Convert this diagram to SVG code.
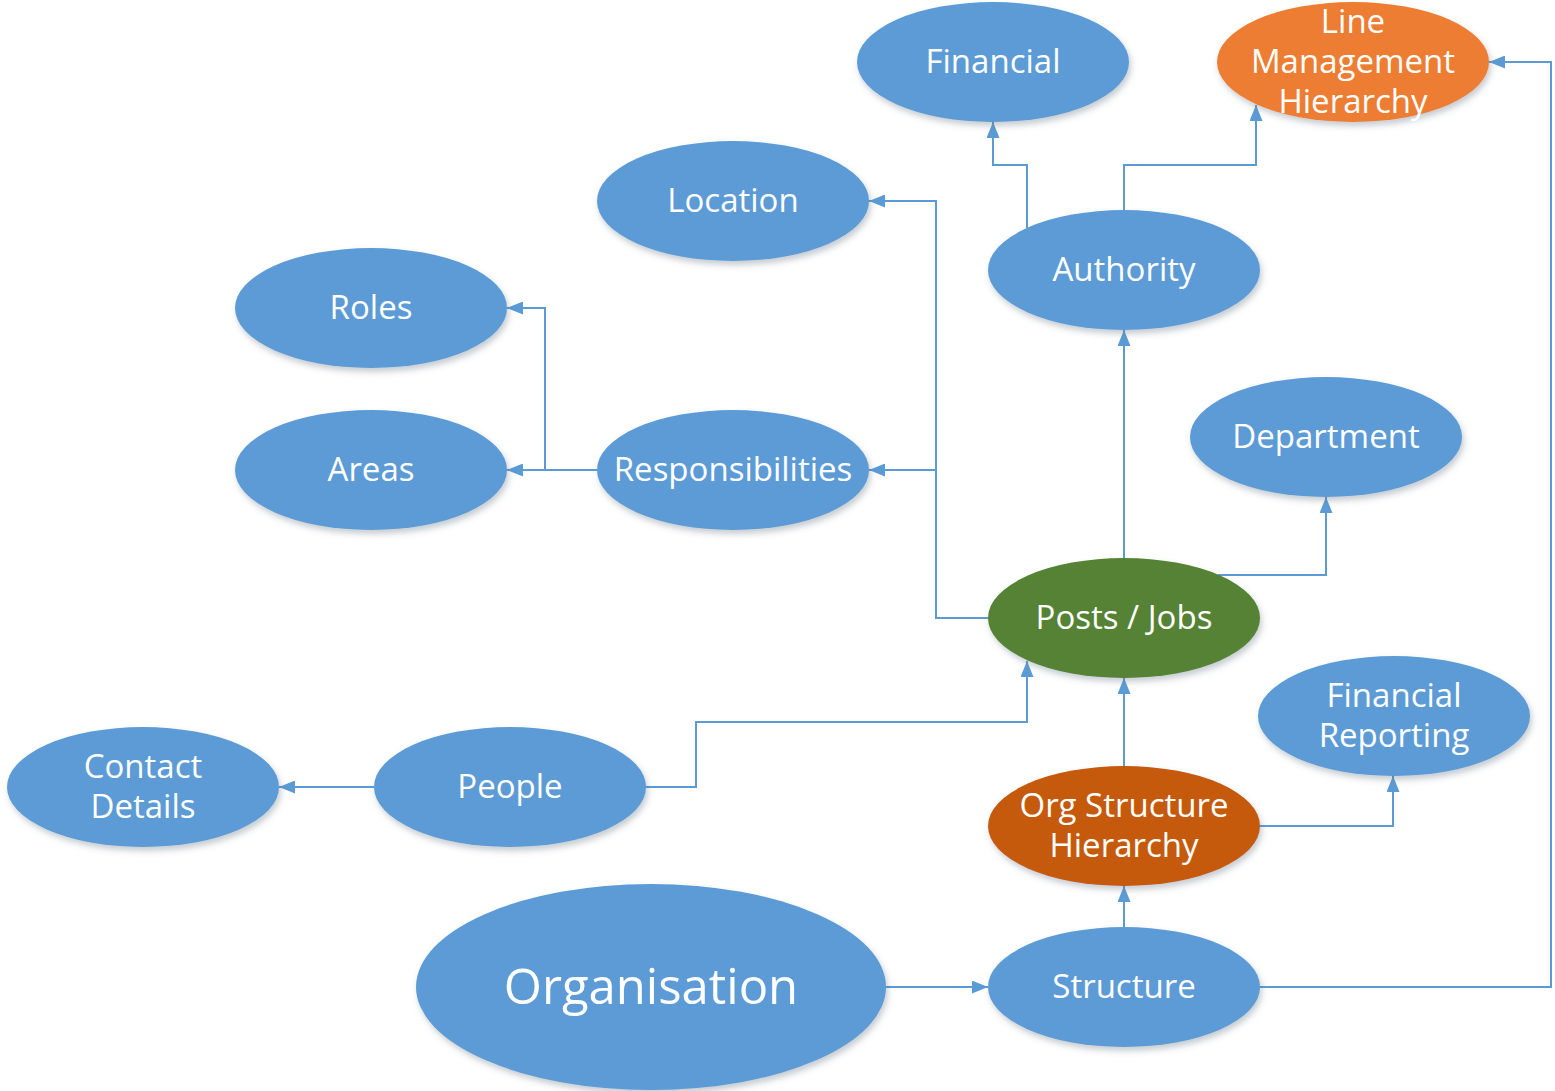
<svg xmlns="http://www.w3.org/2000/svg" width="1555" height="1091" viewBox="0 0 1555 1091">
  <defs>
    <filter id="shadow" x="-20%" y="-20%" width="140%" height="150%">
      <feDropShadow dx="2" dy="4" stdDeviation="3" flood-color="#5a6a7a" flood-opacity="0.35"/>
    </filter>
    <marker id="arrow" viewBox="0 0 16 13" refX="16" refY="6.5" markerWidth="16" markerHeight="13" markerUnits="userSpaceOnUse" orient="auto">
      <path d="M0,0 L16,6.5 L0,13 Z" fill="#5B9BD5"/>
    </marker>
  </defs>
  <style>
    .node ellipse { filter: url(#shadow); }
    .blue { fill: #5B9BD5; }
    .orange { fill: #ED7D31; }
    .green { fill: #548235; }
    .rust { fill: #C55A11; }
    .node text { fill: #ffffff; font-family: "Open Sans", "Noto Sans", sans-serif; font-size: 33px; text-anchor: middle; }
    .node text.big { font-size: 49px; }
    .conn path { fill: none; stroke: #5B9BD5; stroke-width: 2; marker-end: url(#arrow); }
  </style>
  <rect width="1555" height="1091" fill="#ffffff"/>

  <!-- connectors -->
  <g id="connectors" class="conn">
    <path d="M886,987 H988"/>
    <path d="M1124,927 V886"/>
    <path d="M1260,987 H1551 V62 H1489"/>
    <path d="M1124,766 V678"/>
    <path d="M1260,826 H1393 V776"/>
    <path d="M646,787 H696 V722 H1027 V661"/>
    <path d="M374,787 H279"/>
    <path d="M1124,558 V330"/>
    <path d="M1218,575 H1326 V497"/>
    <path d="M988,618 H936 V201 H869"/>
    <path d="M936,470 H869"/>
    <path d="M597,470 H545 V308 H507"/>
    <path d="M545,470 H507"/>
    <path d="M1027,228 V165 H993 V122"/>
    <path d="M1124,210 V165 H1256 V105"/>
  </g>

  <!-- nodes -->
  <g id="financial" class="node">
    <ellipse class="blue" cx="993" cy="62" rx="136" ry="60"/>
    <text x="993" y="73">Financial</text>
  </g>
  <g id="line-management" class="node">
    <ellipse class="orange" cx="1353" cy="62" rx="136" ry="60"/>
    <text x="1353" y="33">Line</text>
    <text x="1353" y="73">Management</text>
    <text x="1353" y="113">Hierarchy</text>
  </g>
  <g id="location" class="node">
    <ellipse class="blue" cx="733" cy="201" rx="136" ry="60"/>
    <text x="733" y="212">Location</text>
  </g>
  <g id="authority" class="node">
    <ellipse class="blue" cx="1124" cy="270" rx="136" ry="60"/>
    <text x="1124" y="281">Authority</text>
  </g>
  <g id="roles" class="node">
    <ellipse class="blue" cx="371" cy="308" rx="136" ry="60"/>
    <text x="371" y="319">Roles</text>
  </g>
  <g id="areas" class="node">
    <ellipse class="blue" cx="371" cy="470" rx="136" ry="60"/>
    <text x="371" y="481">Areas</text>
  </g>
  <g id="responsibilities" class="node">
    <ellipse class="blue" cx="733" cy="470" rx="136" ry="60"/>
    <text x="733" y="481">Responsibilities</text>
  </g>
  <g id="department" class="node">
    <ellipse class="blue" cx="1326" cy="437" rx="136" ry="60"/>
    <text x="1326" y="448">Department</text>
  </g>
  <g id="posts-jobs" class="node">
    <ellipse class="green" cx="1124" cy="618" rx="136" ry="60"/>
    <text x="1124" y="629">Posts / Jobs</text>
  </g>
  <g id="financial-reporting" class="node">
    <ellipse class="blue" cx="1394" cy="716" rx="136" ry="60"/>
    <text x="1394" y="707">Financial</text>
    <text x="1394" y="747">Reporting</text>
  </g>
  <g id="contact-details" class="node">
    <ellipse class="blue" cx="143" cy="787" rx="136" ry="60"/>
    <text x="143" y="778">Contact</text>
    <text x="143" y="818">Details</text>
  </g>
  <g id="people" class="node">
    <ellipse class="blue" cx="510" cy="787" rx="136" ry="60"/>
    <text x="510" y="798">People</text>
  </g>
  <g id="org-structure-hierarchy" class="node">
    <ellipse class="rust" cx="1124" cy="826" rx="136" ry="60"/>
    <text x="1124" y="817">Org Structure</text>
    <text x="1124" y="857">Hierarchy</text>
  </g>
  <g id="organisation" class="node">
    <ellipse class="blue" cx="651" cy="987" rx="235" ry="103"/>
    <text class="big" x="651" y="1004">Organisation</text>
  </g>
  <g id="structure" class="node">
    <ellipse class="blue" cx="1124" cy="987" rx="136" ry="60"/>
    <text x="1124" y="998">Structure</text>
  </g>
</svg>
